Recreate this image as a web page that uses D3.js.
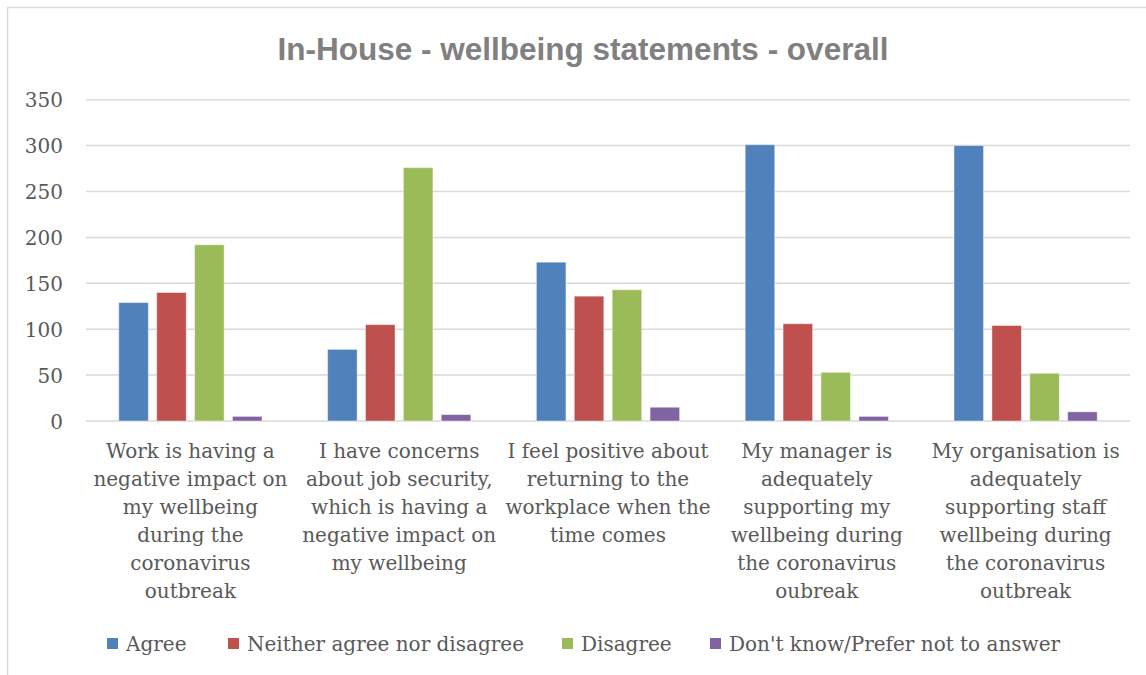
<!DOCTYPE html>
<html>
<head>
<meta charset="utf-8">
<script src="https://cdn.jsdelivr.net/npm/d3@7"></script>
<style>
  html, body { margin: 0; padding: 0; background: #fff; }
  svg { display: block; }
</style>
</head>
<body>
<svg id="chart" width="1146" height="675"></svg>
<script>
// Survey statements (category axis), one label line per array entry
const categories = [
  ["Work is having a", "negative impact on", "my wellbeing", "during the", "coronavirus", "outbreak"],
  ["I have concerns", "about job security,", "which is having a", "negative impact on", "my wellbeing"],
  ["I feel positive about", "returning to the", "workplace when the", "time comes"],
  ["My manager is", "adequately", "supporting my", "wellbeing during", "the coronavirus", "oubreak"],
  ["My organisation is", "adequately", "supporting staff", "wellbeing during", "the coronavirus", "outbreak"]
];

const seriesNames = ["Agree", "Neither agree nor disagree", "Disagree", "Don't know/Prefer not to answer"];
const seriesColors = ["#4F81BD", "#C0504D", "#9BBB59", "#8064A2"];

// Responses per statement, one array per answer option
const agree    = [129, 78, 173, 301, 300];
const neither  = [140, 105, 136, 106, 104];
const disagree = [192, 276, 143, 53, 52];
const dontKnow = [5, 7, 15, 5, 10];

const yTicks = [0, 50, 100, 150, 200, 250, 300, 350];

const seriesValues = [agree, neither, disagree, dontKnow];

const svg = d3.select("#chart");
const serif = "'DejaVu Serif', serif";
const textGrey = "#595959";

// Outer chart frame
svg.append("rect")
  .attr("x", 7.5).attr("y", 7.5)
  .attr("width", 1160).attr("height", 700)
  .attr("fill", "#fff")
  .attr("stroke", "#D9D9D9")
  .attr("stroke-width", 1.5);

// Title
svg.append("text")
  .attr("x", 583).attr("y", 60)
  .attr("text-anchor", "middle")
  .attr("font-family", "'Liberation Sans', Arial, sans-serif")
  .attr("font-weight", "bold")
  .attr("font-size", 31.5)
  .attr("fill", "#808080")
  .text("In-House - wellbeing statements - overall");

const plot = { left: 86, right: 1130, top: 99.7, bottom: 421 };

const y = d3.scaleLinear().domain([0, 350]).range([plot.bottom, plot.top]);
const x0 = d3.scaleBand().domain(d3.range(categories.length)).range([plot.left, plot.right]).padding(0);
const x1 = d3.scaleBand().domain(d3.range(seriesNames.length)).range([0, x0.bandwidth()])
  .paddingInner(0.22).paddingOuter(0.865);

// Horizontal gridlines
svg.append("g")
  .selectAll("line")
  .data(yTicks)
  .join("line")
  .attr("x1", plot.left).attr("x2", plot.right)
  .attr("y1", d => y(d)).attr("y2", d => y(d))
  .attr("stroke", "#D9D9D9")
  .attr("stroke-width", 1.5);

// Y axis labels
const yAxis = d3.axisLeft(y).tickValues(yTicks).tickSize(0).tickPadding(0);
const yg = svg.append("g").attr("transform", `translate(63,0)`).call(yAxis);
yg.select(".domain").remove();
yg.selectAll("text")
  .attr("font-family", serif)
  .attr("font-size", 20)
  .attr("fill", textGrey)
  .attr("dy", "0.36em");

// Bars
const groups = svg.append("g")
  .selectAll("g")
  .data(categories.map((c, i) => i))
  .join("g")
  .attr("transform", i => `translate(${x0(i)},0)`);

groups.selectAll("rect")
  .data(i => seriesValues.map((vals, s) => ({ s, v: vals[i] })))
  .join("rect")
  .attr("x", d => x1(d.s))
  .attr("y", d => y(d.v))
  .attr("width", x1.bandwidth())
  .attr("height", d => y(0) - y(d.v))
  .attr("fill", d => seriesColors[d.s])
  .attr("stroke", "rgba(255,255,255,0.45)")
  .attr("stroke-width", 1);

// Category labels (multi-line)
const catLabels = svg.append("g")
  .selectAll("text")
  .data(categories)
  .join("text")
  .attr("x", (d, i) => x0(i) + x0.bandwidth() / 2)
  .attr("y", 458)
  .attr("text-anchor", "middle")
  .attr("font-family", serif)
  .attr("font-size", 20)
  .attr("fill", textGrey);

catLabels.selectAll("tspan")
  .data(d => d)
  .join("tspan")
  .attr("x", function () { return this.parentNode.getAttribute("x"); })
  .attr("dy", (d, i) => i === 0 ? 0 : 28)
  .text(d => d);

// Legend
const legendX = [107, 228, 562, 710];
const legend = svg.append("g")
  .selectAll("g")
  .data(seriesNames)
  .join("g")
  .attr("transform", (d, i) => `translate(${legendX[i]},638)`);

legend.append("rect")
  .attr("width", 11).attr("height", 11)
  .attr("fill", (d, i) => seriesColors[i]);

legend.append("text")
  .attr("x", 19).attr("y", 13)
  .attr("font-family", serif)
  .attr("font-size", 20)
  .attr("fill", textGrey)
  .text(d => d);
</script>
</body>
</html>
